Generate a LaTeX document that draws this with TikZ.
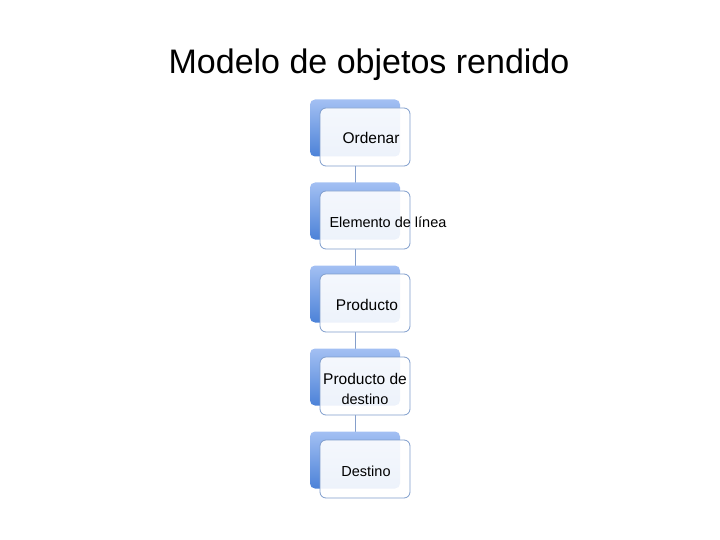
\documentclass[tikz,border=0pt]{standalone}
\usepackage{fontspec}
\setmainfont{Liberation Sans}
\usetikzlibrary{backgrounds}

\definecolor{backtop}{HTML}{A3C0F3}
\definecolor{backbot}{HTML}{4C82D8}
\definecolor{frontline}{HTML}{7F9DCC}
\definecolor{linkline}{HTML}{859FCB}

\tikzset{
  backbox/.style={rounded corners=5pt, minimum width=90pt, minimum height=57pt,
    inner sep=0pt, top color=backtop, bottom color=backbot, draw=none},
  frontbox/.style={rounded corners=6pt, minimum width=90pt, minimum height=58pt,
    inner sep=0pt, draw=frontline, line width=0.8pt, fill=white, fill opacity=0.9},
  boxtext/.style={font=\fontsize{14.5}{17}\selectfont, inner sep=0pt, align=center},
  link/.style={draw=linkline, line width=0.9pt}
}

\begin{document}
\begin{tikzpicture}[x=1pt,y=-1pt]
\useasboundingbox (0,0) rectangle (720,540);

% title
\node (title) at (369,65) {\fontsize{34}{40}\selectfont Modelo de objetos rendido};

% back boxes
\node[backbox] (b1) at (355,128) {};
\node[backbox] (b2) at (355,211) {};
\node[backbox] (b3) at (355,294) {};
\node[backbox] (b4) at (355,377) {};
\node[backbox] (b5) at (355,460) {};

% front boxes
\node[frontbox] (f1) at (365,137) {};
\node[frontbox] (f2) at (365,220) {};
\node[frontbox] (f3) at (365,303) {};
\node[frontbox] (f4) at (365,386) {};
\node[frontbox] (f5) at (365,469) {};

% texts
\node[boxtext, font=\fontsize{15.5}{18}\selectfont] (t1) at (371,138) {Ordenar};
\node[boxtext] (t2) at (388,222) {Elemento de línea};
\node[boxtext, font=\fontsize{15.5}{18}\selectfont] (t3) at (367,305) {Producto};
\node[boxtext, font=\fontsize{15.5}{20}\selectfont] (t4) at (365,389) {Producto de\\{\fontsize{14.5}{17}\selectfont destino}};
\node[boxtext] (t5) at (366,471) {Destino};

% links between the boxes
\begin{scope}[on background layer]
  \draw[link] ([xshift=-10pt]f1.south) -- ([xshift=-10pt]f2.north);
  \draw[link] ([xshift=-10pt]f2.south) -- ([xshift=-10pt]f3.north);
  \draw[link] ([xshift=-10pt]f3.south) -- ([xshift=-10pt]f4.north);
  \draw[link] ([xshift=-10pt]f4.south) -- ([xshift=-10pt]f5.north);
\end{scope}
\end{tikzpicture}
\end{document}
